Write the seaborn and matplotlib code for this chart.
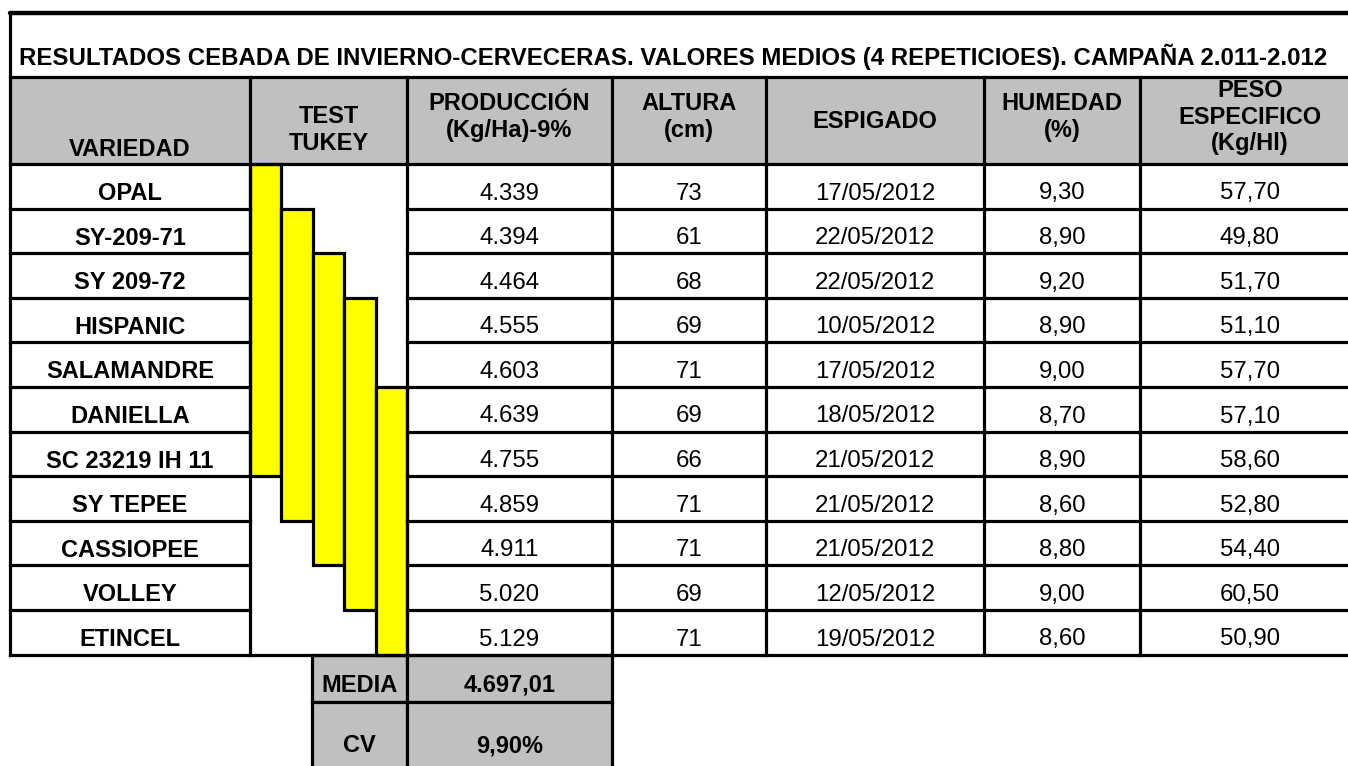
import matplotlib
matplotlib.use("Agg")
import matplotlib.pyplot as plt
from matplotlib.patches import Rectangle
import seaborn as sns

# --- data read from the sheet ---
varieties = ["OPAL", "SY-209-71", "SY 209-72", "HISPANIC", "SALAMANDRE", "DANIELLA",
             "SC 23219 IH 11", "SY TEPEE", "CASSIOPEE", "VOLLEY", "ETINCEL"]
produccion = [4339, 4394, 4464, 4555, 4603, 4639, 4755, 4859, 4911, 5020, 5129]
altura = [73, 61, 68, 69, 71, 69, 66, 71, 71, 69, 71]
espigado = ["17/05/2012", "22/05/2012", "22/05/2012", "10/05/2012", "17/05/2012", "18/05/2012",
            "21/05/2012", "21/05/2012", "21/05/2012", "12/05/2012", "19/05/2012"]
humedad = [9.30, 8.90, 9.20, 8.90, 9.00, 8.70, 8.90, 8.60, 8.80, 9.00, 8.60]
peso = [57.70, 49.80, 51.70, 51.10, 57.70, 57.10, 58.60, 52.80, 54.40, 60.50, 50.90]
# tukey groups: (first row, last row) of each homogeneous group
tukey_groups = [(0, 6), (1, 7), (2, 8), (3, 9), (5, 10)]
media_label, media_value = "MEDIA", "4.697,01"
cv_label, cv_value = "CV", "9,90%"

title = ("RESULTADOS CEBADA DE INVIERNO-CERVECERAS. VALORES MEDIOS (4 REPETICIOES). "
         "CAMPAÑA 2.011-2.012")
headers = ["VARIEDAD", "TEST\nTUKEY", "PRODUCCIÓN\n(Kg/Ha)-9%", "ALTURA\n(cm)", "ESPIGADO",
           "HUMEDAD\n(%)", "PESO\nESPECIFICO\n(Kg/Hl)"]

# --- layout (pixels) ---
col_x = [10, 250, 407, 612, 766, 984, 1140, 1360]
top, title_bot, head_bot = 13, 77, 164
row_h = 44.6
n = len(varieties)
table_bot = head_bot + n * row_h
gray = "#C0C0C0"
yellow = "#FFFF00"
lw = 2.3
fs_title, fs_head, fs_data = 17.3, 17.0, 17.3


def num_es(v, dec):
    s = f"{v:,.{dec}f}"
    return s.replace(",", "X").replace(".", ",").replace("X", ".")


sns.set_theme(style="white")
plt.rcParams["font.family"] = ["Liberation Sans", "DejaVu Sans"]
plt.rcParams["text.color"] = "black"

fig = plt.figure(figsize=(13.48, 7.66), dpi=100)
ax = fig.add_axes([0, 0, 1, 1])
ax.set_xlim(0, 1348)
ax.set_ylim(766, 0)
ax.axis("off")

# header background
ax.add_patch(Rectangle((col_x[0], title_bot), col_x[-1] - col_x[0], head_bot - title_bot,
                       facecolor=gray, edgecolor="none", zorder=0))

# title
ax.text(19, 57, title, fontsize=fs_title, fontweight="bold", ha="left", va="center")

# header texts
header_y = [149, 130, 117, 117, 122, 117, 117]
for j, h in enumerate(headers):
    cx = (col_x[j] + col_x[j + 1]) / 2
    ax.text(cx, header_y[j], h, fontsize=fs_head, fontweight="bold", ha="center", va="center",
            linespacing=1.2)

# tukey bars
bw = (col_x[2] - col_x[1]) / len(tukey_groups)
xs = [col_x[1] + bw * (k + 0.5) for k in range(len(tukey_groups))]
bottoms = [head_bot + g[0] * row_h for g in tukey_groups]
heights = [(g[1] - g[0] + 1) * row_h for g in tukey_groups]
ax.bar(xs, heights, bottom=bottoms, width=bw, color=yellow, edgecolor="black",
       linewidth=lw, zorder=2)

# data rows
for i in range(n):
    y = head_bot + i * row_h + 29.5
    cells = [varieties[i], None, num_es(produccion[i], 0), str(altura[i]), espigado[i],
             num_es(humedad[i], 2), num_es(peso[i], 2)]
    for j, c in enumerate(cells):
        if c is None:
            continue
        cx = (col_x[j] + col_x[j + 1]) / 2
        ax.text(cx, y, c, fontsize=fs_head if j == 0 else fs_data,
                fontweight="bold" if j == 0 else "normal",
                ha="center", va="center", zorder=3)

# grid lines
kw = dict(color="black", linewidth=lw, solid_capstyle="projecting", zorder=4)
ax.plot([col_x[0], 1348], [top, top], color="black", linewidth=3.2, zorder=4)
ax.plot([col_x[0], col_x[0]], [top, table_bot], **kw)
for yy in [title_bot, head_bot, table_bot]:
    ax.plot([col_x[0], 1348], [yy, yy], **kw)
for i in range(1, n):
    yy = head_bot + i * row_h
    ax.plot([col_x[0], col_x[1]], [yy, yy], **kw)
    ax.plot([col_x[2], 1348], [yy, yy], **kw)
for xx in col_x[1:-1]:
    ax.plot([xx, xx], [title_bot, table_bot], **kw)

# summary boxes under the table
sx = [312, col_x[2], col_x[3]]
sy = [table_bot, 702, 780]
for r in range(2):
    for c in range(2):
        ax.add_patch(Rectangle((sx[c], sy[r]), sx[c + 1] - sx[c], sy[r + 1] - sy[r],
                               facecolor=gray, edgecolor="black", linewidth=lw, zorder=1))
for xx, yy, s in [((sx[0] + sx[1]) / 2, 685, media_label), ((sx[1] + sx[2]) / 2, 685, media_value),
                  ((sx[0] + sx[1]) / 2, 746, cv_label), ((sx[1] + sx[2]) / 2, 746, cv_value)]:
    ax.text(xx, yy, s, fontsize=fs_head, fontweight="bold", ha="center", va="center")

fig.savefig("out.png", dpi=100)
